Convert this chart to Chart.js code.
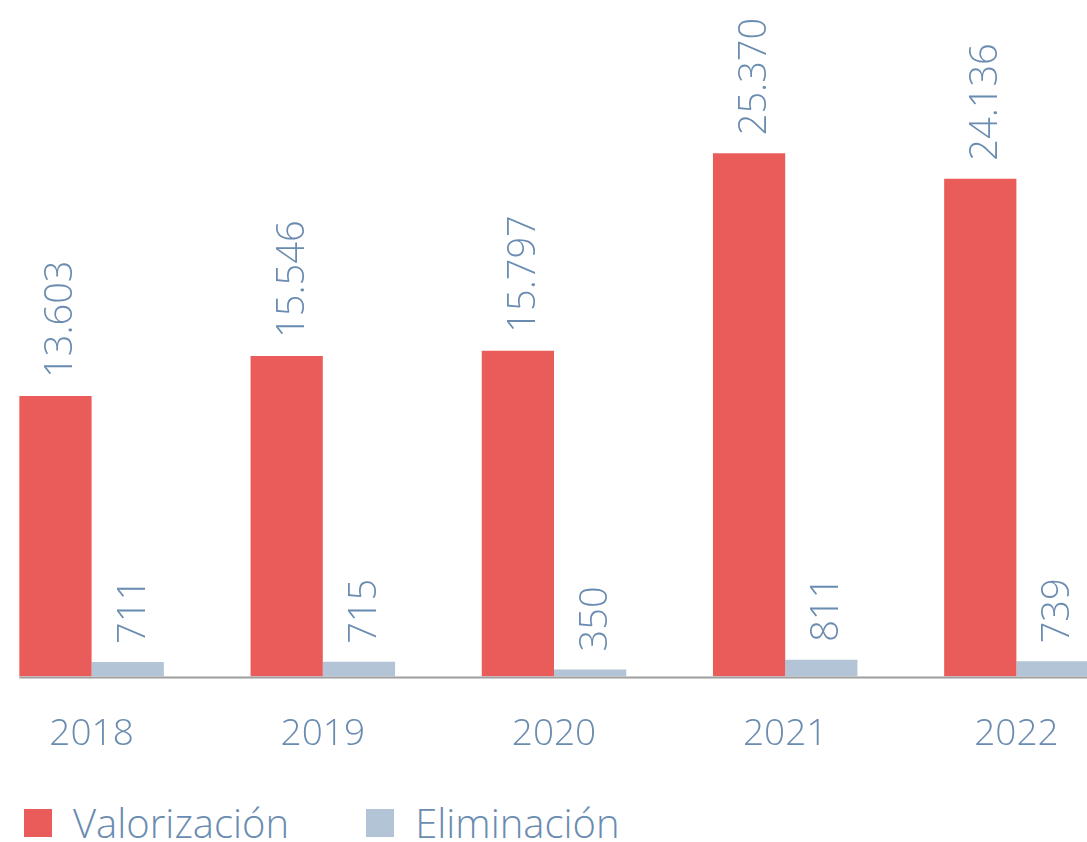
<!DOCTYPE html>
<html lang="es">
<head>
  <meta charset="UTF-8"/>
  <title>Valorización y Eliminación</title>
  <script src="https://cdn.jsdelivr.net/npm/chart.js"></script>
  <style>
    html, body { margin: 0; padding: 0; background: #fff; overflow: hidden; }
    body { width: 1087px; height: 842px; position: relative; font-family: "Open Sans", sans-serif; }
    .chart-box {
      position: absolute;
      left: -24px;
      top: 0;
      width: 1156px;
      height: 793px;
    }
    .legend {
      position: absolute;
      left: 24px;
      top: 799px;
      display: flex;
      align-items: center;
    }
    .legend-item { display: flex; align-items: center; }
    .legend-item .box { width: 28px; height: 28px; margin-right: 21px; }
    .legend-item .txt { font-size: 40px; font-weight: 300; color: #6a8cb0; line-height: 48px; }
    .legend-item + .legend-item { margin-left: 77px; }
  </style>
</head>
<body>
  <div class="chart-box"><canvas id="residuos"></canvas></div>
  <div class="legend" id="legend"></div>
  <script>
    const years = ["2018", "2019", "2020", "2021", "2022"];
    const valorizacion = [13603, 15546, 15797, 25370, 24136];
    const eliminacion = [711, 715, 350, 811, 739];

    const RED = "#e95c5a";
    const GREY = "#b2c4d5";
    const TEXT = "#6a8cb0";
    const FONT = "'Open Sans', sans-serif";

    // 25370 -> "25.370"
    const fmt = v => String(v).replace(/\B(?=(\d{3})+(?!\d))/g, ".");

    // rotated value above each bar
    const valueLabels = {
      id: "valueLabels",
      afterDatasetsDraw(chart) {
        const ctx = chart.ctx;
        ctx.save();
        ctx.fillStyle = TEXT;
        ctx.font = "300 38px " + FONT;
        ctx.textAlign = "left";
        ctx.textBaseline = "middle";
        chart.data.datasets.forEach((ds, i) => {
          chart.getDatasetMeta(i).data.forEach((bar, j) => {
            ctx.save();
            ctx.translate(bar.x + 6, bar.y - 18);
            ctx.rotate(-Math.PI / 2);
            ctx.fillText(fmt(ds.data[j]), 0, 0);
            ctx.restore();
          });
        });
        ctx.restore();
      }
    };

    // grey base line, starting at the first bar
    const baseLine = {
      id: "baseLine",
      afterDatasetsDraw(chart) {
        const first = chart.getDatasetMeta(0).data[0];
        const area = chart.chartArea;
        const ctx = chart.ctx;
        ctx.save();
        ctx.strokeStyle = "#9e9e9e";
        ctx.lineWidth = 2;
        ctx.beginPath();
        ctx.moveTo(first.x - first.width / 2, area.bottom + 1);
        ctx.lineTo(area.right, area.bottom + 1);
        ctx.stroke();
        ctx.restore();
      }
    };

    const chart = new Chart(document.getElementById("residuos"), {
      type: "bar",
      data: {
        labels: years,
        datasets: [
          { label: "Valorización", data: valorizacion, backgroundColor: RED },
          { label: "Eliminación", data: eliminacion, backgroundColor: GREY }
        ]
      },
      options: {
        responsive: true,
        maintainAspectRatio: false,
        animation: false,
        datasets: { bar: { categoryPercentage: 0.625, barPercentage: 1.0 } },
        layout: { padding: 0 },
        plugins: {
          legend: { display: false },
          tooltip: { enabled: false }
        },
        scales: {
          x: {
            grid: { display: false, drawTicks: false },
            border: { display: false },
            ticks: { color: TEXT, font: { family: FONT, size: 37, weight: 300 }, padding: 36 }
          },
          y: { display: false, min: 0, max: 32800 }
        }
      },
      plugins: [valueLabels, baseLine]
    });

    // legend built from the dataset colours and labels
    const legend = document.getElementById("legend");
    chart.data.datasets.forEach(ds => {
      const item = document.createElement("div");
      item.className = "legend-item";
      item.innerHTML = '<span class="box" style="background:' + ds.backgroundColor + '"></span><span class="txt">' + ds.label + "</span>";
      legend.appendChild(item);
    });
  </script>
</body>
</html>
